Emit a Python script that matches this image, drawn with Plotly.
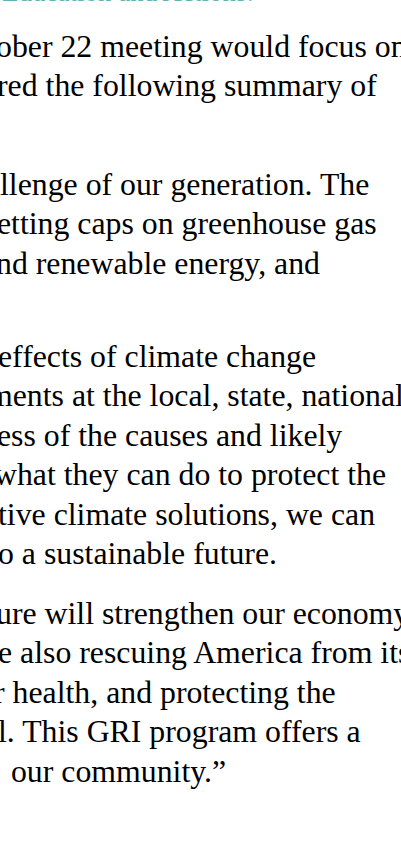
import plotly.graph_objects as go

# ---- content (visible text fragments of the page, by paragraph) ----
heading_fragment = "Education and Actions:"
paragraph_1 = [
    "ober 22 meeting would focus on",
    "red the following summary of",
]
paragraph_2 = [
    "llenge of our generation. The",
    "etting caps on greenhouse gas",
    "nd renewable energy, and",
]
paragraph_3 = [
    "effects of climate change",
    "ments at the local, state, national",
    "ess of the causes and likely",
    "what they can do to protect the",
    "tive climate solutions, we can",
    "o a sustainable future.",
]
paragraph_4 = [
    "ure will strengthen our economy",
    "e also rescuing America from its",
    "r health, and protecting the",
    "l. This GRI program offers a",
    " our community.\u201d",
]
paragraphs = [paragraph_1, paragraph_2, paragraph_3, paragraph_4]

# ---- layout (pixels) ----
W, H = 401, 855
FS = 31.8
LINE_STEP = 39.5
PARA_FIRST_BASELINE = [57, 195, 367, 624]
X_SHIFT = -3
LINE_X = [
    [-2, -1],
    [2, -1, -2],
    [0, -10, -1, -4, 0, 0],
    [-2, 0, -4, 0, 5],
]
FONT = "Liberation Serif, Times New Roman, serif"
ASC, DESC = 0.891, 0.216
HEAD_FS = 27
HEAD_BASELINE = 1.0


def px_to_paper(x, y):
    return x / W, 1 - y / H


annotations = []
for p, lines in enumerate(paragraphs):
    for i, txt in enumerate(lines):
        base = PARA_FIRST_BASELINE[p] + i * LINE_STEP
        yc = base - (ASC - DESC) / 2 * FS
        x, y = px_to_paper(LINE_X[p][i] + X_SHIFT, yc)
        annotations.append(dict(
            text=txt, x=x, y=y, xref="paper", yref="paper",
            xanchor="left", yanchor="middle", showarrow=False,
            borderpad=0, align="left",
            font=dict(family=FONT, size=FS, color="#000000"),
        ))

# teal heading, almost entirely above the visible crop
x, y = px_to_paper(4 + X_SHIFT, HEAD_BASELINE - (ASC - DESC) / 2 * HEAD_FS)
annotations.append(dict(
    text=heading_fragment, x=x, y=y, xref="paper", yref="paper",
    xanchor="left", yanchor="middle", showarrow=False, borderpad=0,
    font=dict(family=FONT, size=HEAD_FS, color="#5fb3b3"),
))

fig = go.Figure()
fig.update_layout(
    width=W, height=H, autosize=False,
    margin=dict(l=0, r=0, t=0, b=0),
    paper_bgcolor="white", plot_bgcolor="white",
    xaxis=dict(visible=False, range=[0, 1]),
    yaxis=dict(visible=False, range=[0, 1]),
    annotations=annotations,
    showlegend=False,
)
fig.write_html(
    "out.html",
    config={"displayModeBar": False},
    post_script="document.body.style.margin='0';document.body.style.overflow='hidden';",
)
